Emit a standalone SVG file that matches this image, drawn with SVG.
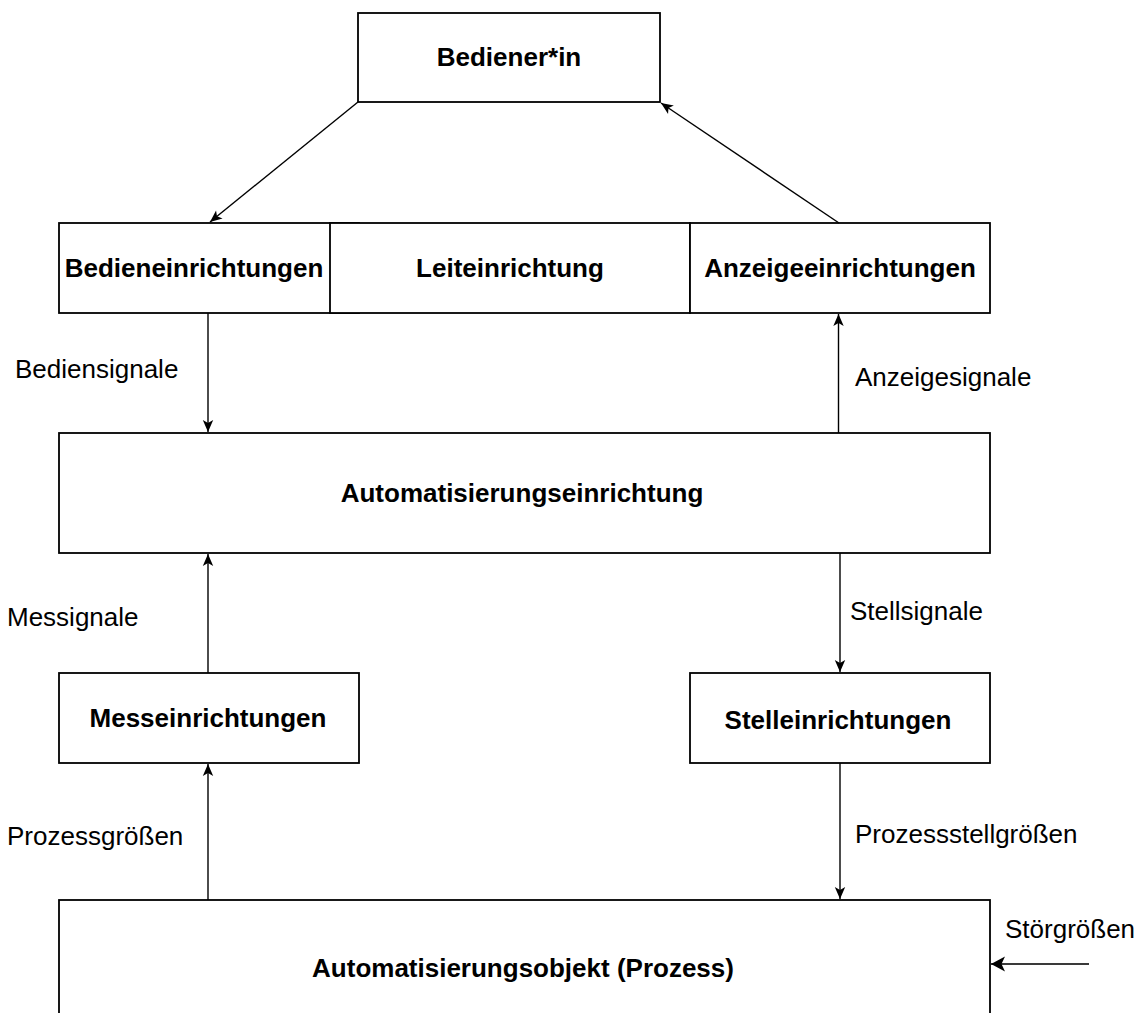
<svg xmlns="http://www.w3.org/2000/svg" width="1146" height="1013" viewBox="0 0 1146 1013">
  <style>
    .box { fill: #ffffff; stroke: #000000; stroke-width: 1.8; }
    .title { font-family: "Liberation Sans", Arial, sans-serif; font-size: 26px; font-weight: bold; fill: #000000; text-anchor: middle; }
    .label { font-family: "Liberation Sans", Arial, sans-serif; font-size: 26px; fill: #000000; }
    .edge { fill: none; stroke: #000000; stroke-width: 1.4; }
    .edge-in { fill: none; stroke: #3a3a3a; stroke-width: 2; }
  </style>
  <defs>
    <marker id="arrow" markerUnits="userSpaceOnUse" markerWidth="16" markerHeight="14" viewBox="-14 -7 16 14" refX="0" refY="0" orient="auto">
      <path d="M0,0 L-12,-5.2 L-9,0 L-12,5.2 Z" fill="#000000"/>
    </marker>
    <marker id="arrow-big" markerUnits="userSpaceOnUse" markerWidth="20" markerHeight="20" viewBox="-17 -10 20 20" refX="0" refY="0" orient="auto">
      <path d="M0,0 L-14,-7.5 L-10.5,0 L-14,7.5 Z" fill="#000000"/>
    </marker>
  </defs>

  <rect width="1146" height="1013" fill="#ffffff"/>

  <g id="bediener">
    <rect class="box" x="358" y="13" width="302" height="89"/>
    <text class="title" x="509" y="66">Bediener*in</text>
  </g>

  <g id="bedieneinrichtungen">
    <rect class="box" x="59" y="223" width="300" height="90"/>
    <text class="title" x="194" y="277">Bedieneinrichtungen</text>
  </g>

  <!-- drawn over the right end of the Bedieneinrichtungen box -->
  <g id="leiteinrichtung">
    <rect class="box" x="330" y="223" width="360" height="90"/>
    <text class="title" x="510" y="277">Leiteinrichtung</text>
  </g>

  <g id="anzeigeeinrichtungen">
    <rect class="box" x="690" y="223" width="300" height="90"/>
    <text class="title" x="840" y="277">Anzeigeeinrichtungen</text>
  </g>

  <g id="automatisierungseinrichtung">
    <rect class="box" x="59" y="433" width="931" height="120"/>
    <text class="title" x="522" y="502">Automatisierungseinrichtung</text>
  </g>

  <g id="messeinrichtungen">
    <rect class="box" x="59" y="673" width="300" height="90"/>
    <text class="title" x="208" y="727">Messeinrichtungen</text>
  </g>

  <g id="stelleinrichtungen">
    <rect class="box" x="690" y="673" width="300" height="90"/>
    <text class="title" x="838" y="729">Stelleinrichtungen</text>
  </g>

  <g id="automatisierungsobjekt">
    <rect class="box" x="59" y="900" width="931" height="130"/>
    <text class="title" x="523" y="977">Automatisierungsobjekt (Prozess)</text>
  </g>

  <g id="connectors">
    <line class="edge" x1="358" y1="102" x2="210" y2="222" marker-end="url(#arrow)"/>
    <line class="edge" x1="839" y1="223" x2="661" y2="103" marker-end="url(#arrow)"/>
    <line class="edge" x1="208" y1="313" x2="208" y2="432" marker-end="url(#arrow)"/>
    <line class="edge" x1="838.5" y1="433" x2="838.5" y2="314" marker-end="url(#arrow)"/>
    <line class="edge" x1="208" y1="673" x2="208" y2="554" marker-end="url(#arrow)"/>
    <line class="edge" x1="840" y1="553" x2="840" y2="672" marker-end="url(#arrow)"/>
    <line class="edge" x1="208" y1="900" x2="208" y2="764" marker-end="url(#arrow)"/>
    <line class="edge" x1="840" y1="763" x2="840" y2="899" marker-end="url(#arrow)"/>
    <line class="edge-in" x1="1089" y1="964" x2="991" y2="964" marker-end="url(#arrow-big)"/>

    <text class="label" x="15" y="378">Bediensignale</text>
    <text class="label" x="855" y="386">Anzeigesignale</text>
    <text class="label" x="7" y="626">Messignale</text>
    <text class="label" x="850" y="620">Stellsignale</text>
    <text class="label" x="7" y="845">Prozessgrößen</text>
    <text class="label" x="855" y="843">Prozessstellgrößen</text>
    <text class="label" x="1005" y="938">Störgrößen</text>
  </g>
</svg>
